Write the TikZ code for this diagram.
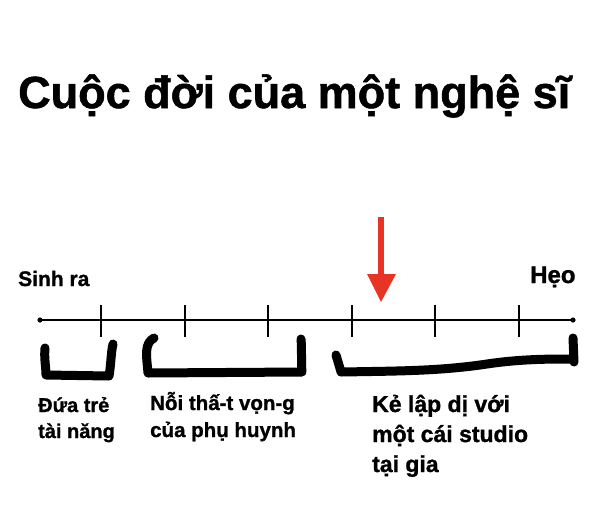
\documentclass[tikz,border=0pt]{standalone}
\usepackage{fontspec}
\setmainfont{Liberation Sans}[BoldFeatures={FakeBold=1.2}]
\definecolor{arrowred}{RGB}{232,52,36}
\begin{document}
\begin{tikzpicture}[x=1pt,y=-1pt,
  lbl/.style={anchor=base west,inner sep=0pt,font=\bfseries\fontsize{20.5}{27}\selectfont,align=left},
  tick/.style={line width=1.6pt,black},
  brace/.style={line width=9pt,line cap=round,line join=round,black}]
\useasboundingbox (0,0) rectangle (600,507);
\node[anchor=base west,inner sep=0pt,font=\bfseries\fontsize{45}{50}\selectfont] (title) at (18,108) {Cuộc đời của một nghệ sĩ};
\node[anchor=base west,inner sep=0pt,font=\bfseries\fontsize{21}{26}\selectfont] (born) at (18,286) {Sinh ra};
\node[anchor=base west,inner sep=0pt,font=\bfseries\fontsize{24}{26}\selectfont] (dead) at (530,283) {Hẹo};
% timeline
\coordinate (tl) at (40,320);
\coordinate (tr) at (573,320);
\draw[line width=1.6pt] (tl) -- (tr);
\fill (tl) circle (2.6);
\fill (tr) circle (2.6);
\foreach \x in {101,185,268,352,435,519} \draw[tick] (\x,305) -- (\x,337);
% red arrow
\coordinate (ash) at (381,217);
\coordinate (ahd) at (381,276);
\draw[arrowred,line width=6pt] (ash) -- (ahd);
\fill[arrowred] (367,274) -- (396,274) -- (381,302) -- cycle;
% brackets
\draw[brace] (45,348) .. controls (44,358) and (46,368) .. (46,375) -- (109,376) .. controls (111,365) and (111,352) .. (113,344);
\draw[brace] (154,338) .. controls (146,342) and (146,352) .. (147,362) -- (148,373) -- (302,372) .. controls (301,362) and (302,350) .. (301,339);
\draw[brace] (336,355) .. controls (338,362) and (340,368) .. (341,372) .. controls (400,371) and (440,371) .. (487,364) .. controls (520,359) and (550,359) .. (570,359);
\draw[brace] (573,338) -- (574,362);
% labels (anchored at the baseline of the last line)
\node[lbl,font=\bfseries\fontsize{20}{26}\selectfont] (l1) at (38,438) {Đứa trẻ\\tài năng};
\node[lbl] (l2) at (150,437) {Nỗi thấ-t vọn-g\\của phụ huynh};
\node[lbl,font=\bfseries\fontsize{23}{30}\selectfont] (l3) at (372,472) {Kẻ lập dị với\\một cái studio\\tại gia};
\end{tikzpicture}
\end{document}
